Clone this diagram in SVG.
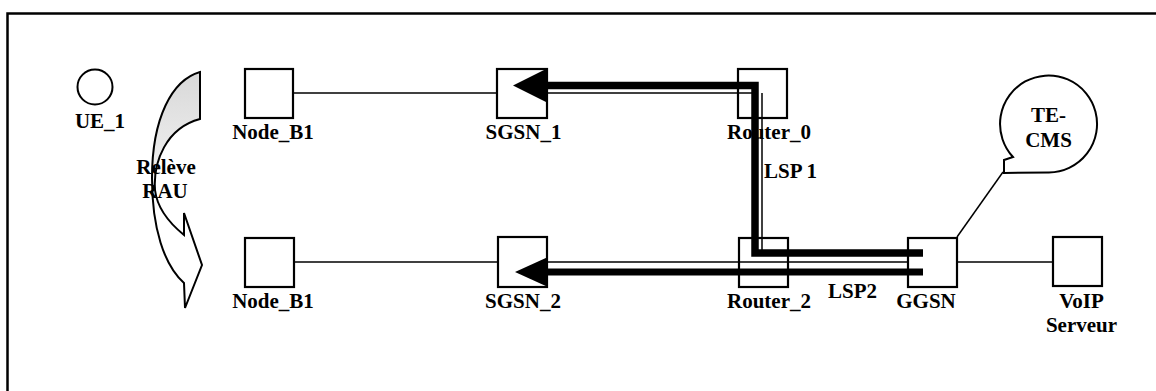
<svg xmlns="http://www.w3.org/2000/svg" width="1156" height="391" viewBox="0 0 1156 391">
<style>
  .lbl { font-family: "Liberation Serif", "Times New Roman", serif; font-weight: bold; font-size: 21px; fill: #000; text-anchor: middle; }
  .box { fill: #fff; stroke: #000; stroke-width: 2.2; }
  .link { stroke: #000; stroke-width: 1.5; fill: none; }
  .lsp { stroke: #000; fill: none; stroke-linejoin: miter; }
  .shape { stroke: #000; stroke-width: 2; }
</style>
<defs>
  <linearGradient id="relfill" x1="0" y1="0" x2="0" y2="1">
    <stop offset="0" stop-color="#d8d8d8"/>
    <stop offset="0.35" stop-color="#ececec"/>
    <stop offset="0.6" stop-color="#ffffff"/>
  </linearGradient>
</defs>
<rect width="1156" height="391" fill="#fff"/>
<path d="M7.5,391 V13.5 H1156" fill="none" stroke="#000" stroke-width="2.5"/>

<g id="ue1">
  <circle cx="95" cy="87" r="17.5" fill="#fff" class="shape"/>
  <text class="lbl" x="100" y="128">UE_1</text>
</g>

<g id="releve">
  <path d="M200,72 C172,80 152,118 152,178 C152,228 164,265 184,283 L185,308 L202,265 L184,213 L184,235 C168,222 157,207 155,190 C153,162 166,128 200,119 Z" fill="url(#relfill)" class="shape"/>
  <text class="lbl" x="166" y="174">Relève</text>
  <text class="lbl" x="165" y="198">RAU</text>
</g>

<g id="nodeb1_top">
  <rect class="box" x="245" y="69" width="48" height="49"/>
  <text class="lbl" x="273" y="139">Node_B1</text>
</g>
<g id="nodeb1_bottom">
  <rect class="box" x="245" y="238" width="49" height="49"/>
  <text class="lbl" x="273" y="308">Node_B1</text>
</g>
<g id="sgsn1">
  <rect class="box" x="497" y="69" width="50" height="49"/>
  <text class="lbl" x="523.5" y="139">SGSN_1</text>
</g>
<g id="sgsn2">
  <rect class="box" x="498" y="237" width="49" height="50"/>
  <text class="lbl" x="523" y="308">SGSN_2</text>
</g>
<g id="router0">
  <rect class="box" x="738" y="69" width="49" height="49"/>
  <text class="lbl" x="769" y="139">Router_0</text>
</g>
<g id="router2">
  <rect class="box" x="739" y="238" width="49" height="49"/>
  <text class="lbl" x="769" y="308">Router_2</text>
</g>
<g id="ggsn">
  <rect class="box" x="908" y="238" width="49" height="49"/>
  <text class="lbl" x="926" y="308">GGSN</text>
</g>
<g id="voip">
  <rect class="box" x="1053" y="237" width="49" height="49"/>
  <text class="lbl" x="1081.5" y="308">VoIP</text>
  <text class="lbl" x="1081.5" y="332">Serveur</text>
</g>
<g id="tecms">
  <path d="M1004,160 L1013,157 A48.5,48.5 0 1 1 1049,172.5 L1004,173 Z" fill="#fff" class="shape"/>
  <text class="lbl" x="1048.5" y="122">TE-</text>
  <text class="lbl" x="1048.5" y="147">CMS</text>
</g>

<g id="connectors">
  <line class="link" x1="293" y1="93" x2="497" y2="93"/>
  <line class="link" x1="547" y1="93" x2="756" y2="93"/>
  <line class="link" x1="762" y1="93" x2="762" y2="250"/>
  <line class="link" x1="294" y1="262" x2="498" y2="262"/>
  <line class="link" x1="547" y1="262" x2="908" y2="262"/>
  <line class="link" x1="957" y1="262" x2="1053" y2="262"/>
  <line class="link" x1="1003" y1="172" x2="957" y2="237" stroke-width="2"/>
  <path class="lsp" d="M923,253 H755 V85.5 H546" stroke-width="7.5"/>
  <polygon points="513,85.5 548,68 548,103" fill="#000"/>
  <path class="lsp" d="M923,272 H546" stroke-width="7"/>
  <polygon points="515,272 548,257 548,287" fill="#000"/>
  <text class="lbl" x="764" y="178" text-anchor="start" style="text-anchor:start">LSP 1</text>
  <text class="lbl" x="828" y="298" style="text-anchor:start">LSP2</text>
</g>
</svg>
